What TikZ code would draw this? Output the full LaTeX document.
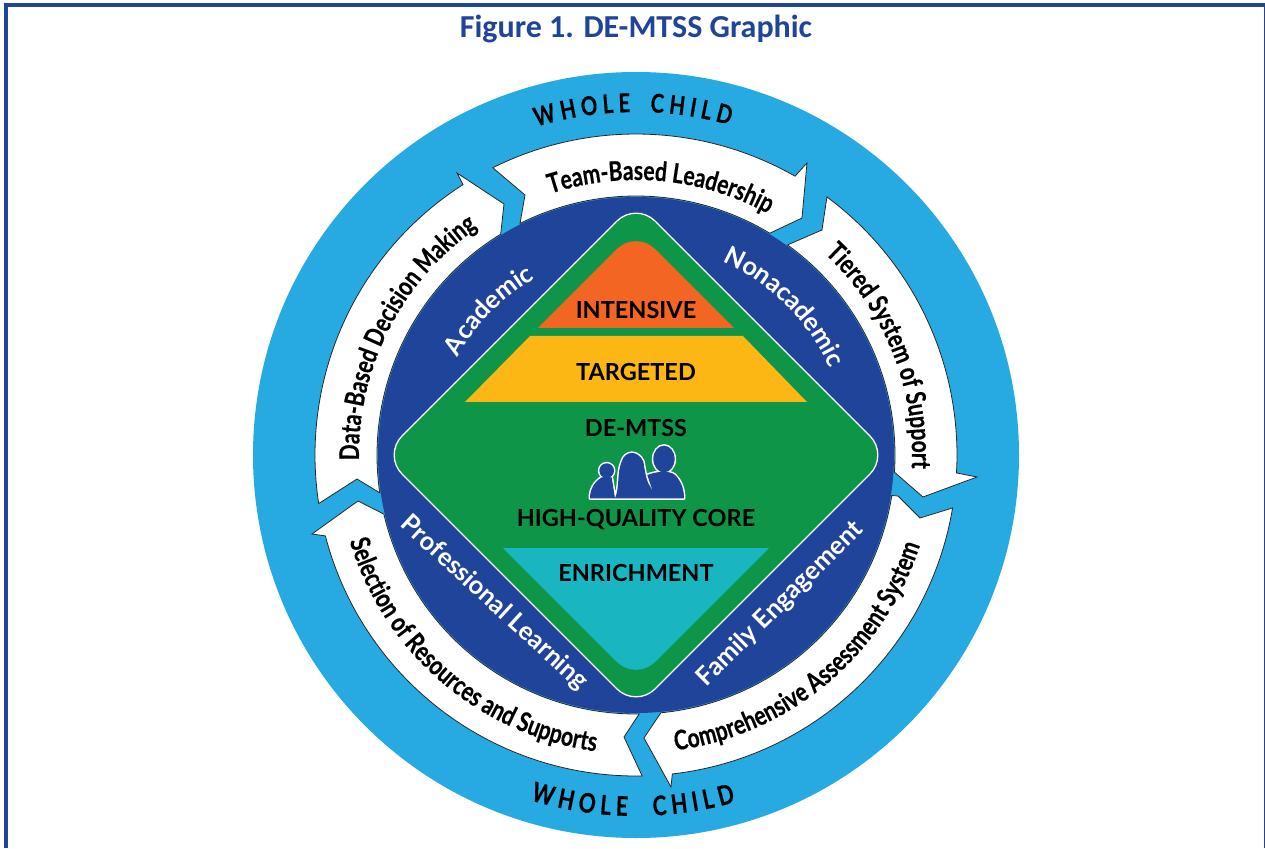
\documentclass[tikz,border=0pt]{standalone}
\usepackage{fontspec}
\usetikzlibrary{decorations.text}
\setmainfont{Lato}
\newfontfamily\titlefam{Carlito}
\newfontfamily\arrowfam[FakeStretch=0.78,BoldFeatures={FakeBold=0.4}]{Lato}
\newcommand\titlefont{\titlefam\bfseries\fontsize{32}{32}\selectfont}
\newcommand\arrowfont{\arrowfam\bfseries\fontsize{27}{27}\selectfont}
\newcommand\wholefont{\arrowfam\bfseries\fontsize{26}{26}\selectfont}
\newcommand\lowerwholefont{\arrowfam\bfseries\fontsize{27}{27}\selectfont}
\newcommand\ringfont{\bfseries\fontsize{25.5}{25.5}\selectfont}
\newcommand\tierfont{\bfseries\fontsize{23.5}{23.5}\selectfont}
\definecolor{navy}{HTML}{1F4499}
\definecolor{sky}{HTML}{27AAE1}
\definecolor{leaf}{HTML}{0F9548}
\definecolor{tierorange}{HTML}{F26522}
\definecolor{tieryellow}{HTML}{FDB714}
\definecolor{tierteal}{HTML}{19B5C0}
\tikzset{
   arrowshape/.style={fill=white,draw=black!85,line width=0.8pt,line join=miter},
   tierlabel/.style={inner sep=0pt,anchor=base,font=\tierfont,text=black},
   curvetext/.style 2 args={decorate,decoration={text along path,text align=center,text={|#1|#2}}},
}
\newcommand\familypath{
   (90,295) .. controls (90,265) and (105,245) .. (125,232) -- (155,232) -- (165,295) -- cycle
   (140,212) circle[radius=22]
   (262,225) .. controls (285,215) and (330,210) .. (345,225) .. controls (365,245) and (372,270) .. (372,295) -- (285,295) -- cycle
   (312,177) ellipse[x radius=32,y radius=40]
   (165,295) .. controls (180,260) and (170,220) .. (185,185) .. controls (195,150) and (235,150) .. (250,185) .. controls (255,215) and (258,235) .. (265,250) .. controls (275,265) and (280,280) .. (285,295) -- cycle
}
\begin{document}
\begin{tikzpicture}[x=1pt,y=1pt]
   \useasboundingbox (-636,-393) rectangle (629,455);
   % frame
   \fill[navy] (-632,-393) rectangle (-628,452);
   \fill[navy] (-632,448) rectangle (629,452);
   \fill[navy] (627.6,-393) rectangle (629,452);
   \node[inner sep=0pt,anchor=base,font=\titlefont,text=navy] (title) at (0,417) {Figure 1. DE-MTSS Graphic};
   % rings
   \fill[sky] (0,0) circle[radius=383];
   % arrows
   \draw[arrowshape] (116.5:321) arc[start angle=116.5,end angle=60.3,radius=321]
   -- (171,292) -- (166,237) -- (58.9:259) arc[start angle=58.9,end angle=116.6,radius=259] -- (-111,260) -- cycle;
   \draw[arrowshape] (53.5:321) arc[start angle=53.5,end angle=-3.2,radius=321]
   -- (341,-22) -- (287,-42) -- (-3.8:259) arc[start angle=-3.8,end angle=54.2,radius=259] -- (186,225) -- cycle;
   \draw[arrowshape] (-9.5:321) arc[start angle=-9.5,end angle=-83.5,radius=321]
   -- (35,-332) -- (8,-283) -- (-84.5:259) arc[start angle=-84.5,end angle=-9,radius=259] -- (262,-41) -- (284,-63) -- cycle;
   \draw[arrowshape] (-88.9:321) arc[start angle=-88.9,end angle=-165.4,radius=321]
   -- (-324,-79) -- (-278,-46) -- (-166.8:259) arc[start angle=-166.8,end angle=-89.3,radius=259] -- (-12,-282) -- cycle;
   \draw[arrowshape] (188.7:321) arc[start angle=188.7,end angle=122.6,radius=321]
   -- (-179,282) -- (-132,251) -- (121.5:259) arc[start angle=121.5,end angle=188.4,radius=259] -- (-279,-24) -- cycle;
   % inner circle and diamond
   \fill[navy] (0,0) circle[radius=258];
   \draw[white,fill=leaf,line width=1.3pt,rounded corners=27pt] (126.5,126.5) -- (253,0) -- (0,-253) -- (-253,0) -- (0,253) -- cycle;
   \fill[tierorange] (-98,127) [rounded corners=27pt] -- (0,225) [sharp corners] -- (98,127) -- cycle;
   \fill[tieryellow] (-106,119) -- (107,119) -- (171,53) -- (-171,53) -- cycle;
   \fill[tierteal] (-133,-93) -- (133,-93) [rounded corners=27pt] -- (0,-226) [sharp corners] -- cycle;
   % tiers
   \node[tierlabel] (intensive) at (0,136) {INTENSIVE};
   \node[tierlabel] (targeted) at (0,74) {TARGETED};
   \node[tierlabel] (demtss) at (0,18) {DE-MTSS};
   \node[tierlabel] (core) at (0,-71) {HIGH-QUALITY CORE};
   \node[tierlabel] (enrichment) at (0,-126) {ENRICHMENT};
   % family
   \begin{scope}[shift={(-76,55)},x=0.3333pt,y=-0.3333pt]
   \draw[white,line width=3pt,line join=round] \familypath;
   \fill[navy] \familypath;
   \end{scope}
   % arrow texts
   \path[curvetext={\arrowfont}{Team-Based Leadership}] (150:275) arc[start angle=150,end angle=19.4,radius=275];
   \path[curvetext={\arrowfont}{Tiered System of Support}] (90:276) arc[start angle=90,end angle=-46,radius=276];
   \path[curvetext={\arrowfont}{Comprehensive Assessment System}] (-120.4:298) arc[start angle=-120.4,end angle=20.4,radius=298];
   \path[curvetext={\arrowfont}{Selection of Resources and Supports}] (-200:299) arc[start angle=-200,end angle=-61,radius=299];
   \path[curvetext={\arrowfont}{Data-Based Decision Making}] (215:277) arc[start angle=215,end angle=91,radius=277];
   % whole child
   \path[curvetext={\wholefont}{W H O L E {\ \ } C H I L D}] (130.5:343) arc[start angle=130.5,end angle=50.5,radius=343];
   \path[curvetext={\lowerwholefont}{W H O L E {\ \ \ } C H I L D}] (-130.5:361) arc[start angle=-130.5,end angle=-50.5,radius=361];
   % ring texts
   \path[curvetext={\color{white}\ringfont}{Academic}] (165:203) arc[start angle=165,end angle=106,radius=203];
   \path[curvetext={\color{white}\ringfont}{Nonacademic}] (70:212) arc[start angle=70,end angle=20,radius=212];
   \path[curvetext={\color{white}\ringfont}{Professional Learning}] (-238,-70) -- (-56,-237);
   \path[curvetext={\color{white}\ringfont}{Family Engagement}] (68,-235) -- (230,-74);
\end{tikzpicture}
\end{document}
